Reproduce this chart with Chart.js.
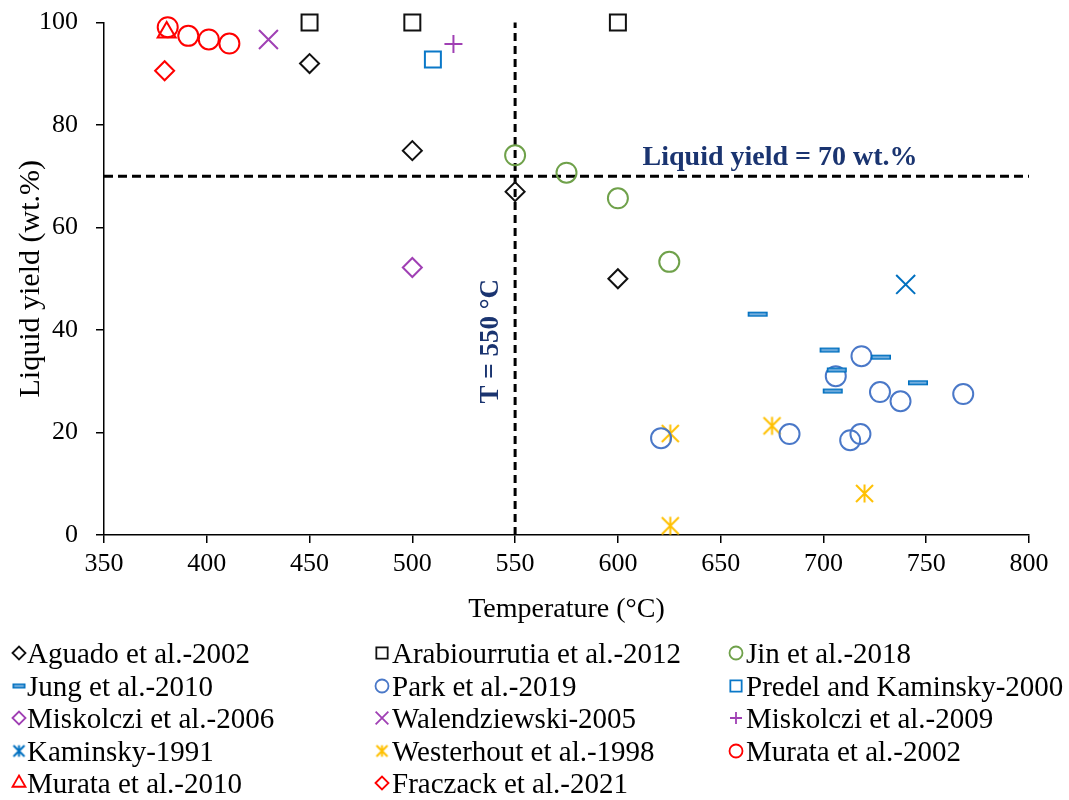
<!DOCTYPE html>
<html>
<head>
<meta charset="utf-8">
<title>Liquid yield vs temperature</title>
<script src="https://cdn.jsdelivr.net/npm/chart.js@4.4.0/dist/chart.umd.min.js"></script>
<style>
  body { margin: 0; background: #fff; }
  #wrap { position: relative; width: 1069px; height: 800px; overflow: hidden; }
  #chart-box { position: absolute; left: 0; top: 0; width: 1069px; height: 630px; }
  #legend { position: absolute; left: 0; top: 0; width: 1069px; height: 800px; pointer-events: none;
            font-family: 'Liberation Serif', 'Times New Roman', serif; font-size: 29px; color: #000; }
  .item { position: absolute; height: 32px; line-height: 32px; white-space: nowrap; }
  .item canvas { position: absolute; top: 6px; }
</style>
</head>
<body>
<div id="wrap">
  <div id="chart-box"><canvas id="liquidChart" width="1069" height="630"></canvas></div>
  <div id="legend"></div>
</div>
<script>
// Axis setup
const xTicks = { min: 350, max: 800, step: 50 };
const yTicks = { min: 0, max: 100, step: 20 };

// Reference lines
const limitTemp = 550;
const limitYield = 70;

// Series values [temperature, liquid yield]
const aguado = [[450, 92], [500, 75], [550, 67], [600, 50]];
const arabiourrutia = [[450, 100], [500, 100], [600, 100]];
const jin = [[550, 74.1], [575, 70.7], [600, 65.7], [625, 53.3]];
const jung = [[668, 43.1], [703, 36.1], [706.5, 32.2], [704.5, 28.1], [728, 34.7], [746, 29.7]];
const park = [[621, 18.9], [683.5, 19.7], [706, 31], [718.5, 34.9], [727.5, 27.9], [737.5, 26.1], [768, 27.5], [713, 18.5], [718, 19.7]];
const predel = [[510, 92.8]];
const miskolczi2006 = [[500, 52.2]];
const walendziewski = [[430, 96.7]];
const miskolczi2009 = [[520, 95.8]];
const kaminsky = [[740, 48.9]];
const westerhout = [[625.5, 19.8], [675, 21.3], [625.5, 1.8], [720, 8.1]];
const murata2002 = [[381, 99.1], [391, 97.4], [401, 96.7], [411, 95.9]];
const murata2010 = [[380.5, 98.1]];
const fraczack = [[379.5, 90.6]];

const FONT = "'Liberation Serif', 'Times New Roman', serif";
const NAVY = '#1a3470';

// Custom marker images
function dashImage(w, h) {
  const c = document.createElement('canvas');
  c.width = w + 2; c.height = h + 2;
  const g = c.getContext('2d');
  g.fillStyle = '#8fbde6';
  g.fillRect(1, 1, w, h);
  g.strokeStyle = '#0070C0';
  g.lineWidth = 1.6;
  g.strokeRect(1.8, 1.8, w - 1.6, h - 1.6);
  return c;
}

function starImage(size, color, withX, withBar) {
  const c = document.createElement('canvas');
  c.width = size + 4; c.height = size + 4;
  const g = c.getContext('2d');
  const m = c.width / 2, r = size / 2;
  g.strokeStyle = color;
  g.lineWidth = 2;
  g.beginPath();
  if (withX) {
    g.moveTo(m - r, m - r); g.lineTo(m + r, m + r);
    g.moveTo(m + r, m - r); g.lineTo(m - r, m + r);
  }
  if (withBar) {
    g.moveTo(m, m - r * 1.05); g.lineTo(m, m + r * 1.05);
  }
  g.stroke();
  return c;
}

const seriesList = [
  { label: 'Aguado et al.-2002', data: aguado, style: 'rectRot', color: '#111', r: 9.5, lr: 6.5 },
  { label: 'Arabiourrutia et al.-2012', data: arabiourrutia, style: 'rect', color: '#111', r: 11.3, lr: 8 },
  { label: 'Jin et al.-2018', data: jin, style: 'circle', color: '#6fa14a', r: 10, lr: 6.5 },
  { label: 'Jung et al.-2010', data: jung, style: dashImage(20, 5), color: '#0070C0', r: 10, lr: 6, legendStyle: dashImage(13, 5) },
  { label: 'Park et al.-2019', data: park, style: 'circle', color: '#4a78c8', r: 10, lr: 6.5 },
  { label: 'Predel and Kaminsky-2000', data: predel, style: 'rect', color: '#0a78c8', r: 11.3, lr: 8 },
  { label: 'Miskolczi et al.-2006', data: miskolczi2006, style: 'rectRot', color: '#a040b4', r: 9.5, lr: 6.5 },
  { label: 'Walendziewski-2005', data: walendziewski, style: 'crossRot', color: '#a040b4', r: 13.4, lr: 9 },
  { label: 'Miskolczi et al.-2009', data: miskolczi2009, style: 'cross', color: '#a040b4', r: 9, lr: 6 },
  { label: 'Kaminsky-1991', data: kaminsky, style: 'crossRot', color: '#0070C0', r: 13.4, lr: 6, legendStyle: starImage(11, '#0070C0', true, true) },
  { label: 'Westerhout et al.-1998', data: westerhout, style: starImage(17, '#FFC000', true, true), color: '#FFC000', r: 10, lr: 6, legendStyle: starImage(11, '#FFC000', true, true) },
  { label: 'Murata et al.-2002', data: murata2002, style: 'circle', color: '#ff0000', r: 10, lr: 6.5 },
  { label: 'Murata et al.-2010', data: murata2010, style: 'triangle', color: '#ff0000', r: 10.4, lr: 7.5 },
  { label: 'Fraczack et al.-2021', data: fraczack, style: 'rectRot', color: '#ff0000', r: 9.5, lr: 6.5 }
];

const datasets = seriesList.map(s => ({
  label: s.label,
  data: s.data.map(p => ({ x: p[0], y: p[1] })),
  pointStyle: s.style,
  pointRadius: s.r,
  pointHoverRadius: s.r,
  pointBorderColor: s.color,
  pointBackgroundColor: 'rgba(0,0,0,0)',
  pointBorderWidth: 2,
  showLine: false,
  clip: false
}));

// Dashed reference lines
datasets.push({
  label: 'T limit',
  type: 'line',
  data: [{ x: limitTemp, y: yTicks.min }, { x: limitTemp, y: yTicks.max }],
  borderColor: '#000', borderWidth: 3, borderDash: [8, 5],
  pointRadius: 0, showLine: true, clip: false
});
datasets.push({
  label: 'Yield limit',
  type: 'line',
  data: [{ x: xTicks.min, y: limitYield }, { x: xTicks.max, y: limitYield }],
  borderColor: '#000', borderWidth: 3, borderDash: [9, 5],
  pointRadius: 0, showLine: true, clip: false
});

// Text next to the reference lines
const refLabels = {
  id: 'refLabels',
  afterDatasetsDraw(chart) {
    const { ctx, scales: { x, y } } = chart;
    ctx.save();
    ctx.fillStyle = NAVY;
    ctx.font = 'bold 28px ' + FONT;
    ctx.textAlign = 'left';
    ctx.textBaseline = 'middle';
    ctx.fillText('Liquid yield = ' + limitYield + ' wt.%', x.getPixelForValue(612), y.getPixelForValue(73.6));
    ctx.font = 'bold 27px ' + FONT;
    ctx.translate(x.getPixelForValue(538.5), y.getPixelForValue(37.8));
    ctx.rotate(-Math.PI / 2);
    ctx.textAlign = 'center';
    ctx.fillText('T = ' + limitTemp + ' °C', 0, 0);
    ctx.restore();
  }
};

const axisCommon = {
  grid: { drawOnChartArea: false, drawTicks: true, tickLength: 8, color: '#000', lineWidth: 1.5 },
  border: { color: '#000', width: 1.5 }
};

const ctx = document.getElementById('liquidChart').getContext('2d');
const liquidChart = new Chart(ctx, {
  type: 'scatter',
  data: { datasets },
  options: {
    responsive: false,
    animation: false,
    layout: { padding: { left: 9, right: 40, top: 0, bottom: 0 } },
    plugins: { legend: { display: false }, tooltip: { enabled: false } },
    scales: {
      x: {
        ...axisCommon,
        min: xTicks.min, max: xTicks.max,
        ticks: { stepSize: xTicks.step, color: '#000', font: { family: FONT, size: 26 }, padding: 6 },
        title: { display: true, text: 'Temperature (°C)', color: '#000', font: { family: FONT, size: 28 } },
        afterFit(scale) { scale.height = 95; }
      },
      y: {
        ...axisCommon,
        min: yTicks.min, max: yTicks.max,
        // small lineHeight keeps the top label from pushing the plot down
        ticks: { stepSize: yTicks.step, color: '#000', font: { family: FONT, size: 26, lineHeight: 0.35 }, padding: 18 },
        title: { display: true, text: 'Liquid yield (wt.%)', color: '#000', font: { family: FONT, size: 30 } },
        afterFit(scale) { scale.width = 95; }
      }
    }
  },
  plugins: [refLabels]
});

// Legend in three columns
const legendBox = document.getElementById('legend');
const markerCenters = [19, 382, 736];
const textStarts = [27, 392, 746];
const rowTop = 637;
const rowStep = 32.5;

seriesList.forEach((s, i) => {
  const col = i % 3;
  const row = Math.floor(i / 3);
  const item = document.createElement('div');
  item.className = 'item';
  item.style.left = (markerCenters[col] - 10) + 'px';
  item.style.top = (rowTop + row * rowStep) + 'px';

  const mk = document.createElement('canvas');
  mk.width = 20; mk.height = 20;
  const g = mk.getContext('2d');
  g.strokeStyle = s.color;
  g.fillStyle = 'rgba(0,0,0,0)';
  g.lineWidth = 1.8;
  Chart.helpers.drawPoint(g, { pointStyle: s.legendStyle || s.style, radius: s.lr, borderWidth: 1.8 }, 10, 10);
  mk.style.left = '0px';
  item.appendChild(mk);

  const span = document.createElement('span');
  span.textContent = s.label;
  span.style.position = 'absolute';
  span.style.left = (textStarts[col] - markerCenters[col] + 10) + 'px';
  item.appendChild(span);
  legendBox.appendChild(item);
});
</script>
</body>
</html>
